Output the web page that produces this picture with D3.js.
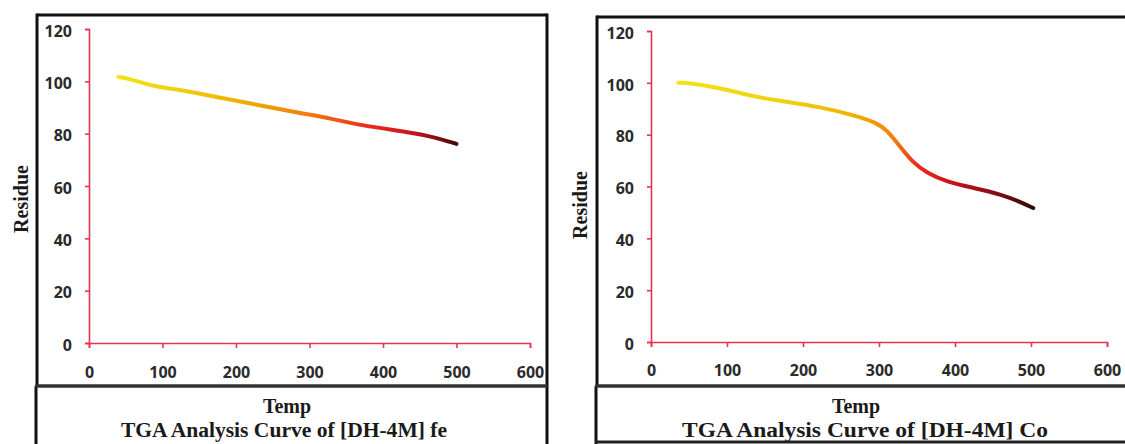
<!DOCTYPE html>
<html>
<head>
<meta charset="utf-8">
<script src="https://cdn.jsdelivr.net/npm/d3@7"></script>
<style>
  body { margin: 0; background: #fff; }
  .tick text { font-family: "Open Sans", sans-serif; font-weight: 700; font-size: 16px; fill: #2a2a2a; }
  .title { font-family: "Liberation Serif", "Times New Roman", serif; font-weight: 700; font-size: 20px; fill: #1a1a1a; }
</style>
</head>
<body>
<div id="chart"></div>
<script>
// tick values shared by both panels
var xTicks = [0, 100, 200, 300, 400, 500, 600];
var yTicks = [0, 20, 40, 60, 80, 100, 120];

// [DH-4M] fe
var tempFe = [40, 56, 83, 124, 160, 215, 278, 332, 365, 441, 468, 500];
var residueFe = [101.7, 101, 98.3, 96.7, 94.8, 91.8, 88.3, 85.7, 83.4, 80.3, 78.8, 76.1];

// [DH-4M] Co
var tempCo = [36, 51, 91, 143, 179, 222, 266, 297, 310, 328, 345, 363, 389, 424, 463, 485, 503];
var residueCo = [100, 100, 98, 94.2, 92.7, 90.7, 87.6, 84.6, 81.9, 75.3, 69.1, 65.3, 61.8, 59.5, 56.8, 54.1, 51.7];

var svg = d3.select("#chart")
  .append("svg")
    .attr("width", 1125)
    .attr("height", 444);

var defs = svg.append("defs");

function drawPanel(p) {
  var x = d3.scaleLinear().domain([0, 600]).range([p.x0, p.x1]);
  var y = d3.scaleLinear().domain([0, 120]).range([p.y0, p.y1]);

  // frame boxes
  var g = svg.append("g");
  g.append("line").attr("x1", p.frameL).attr("x2", p.frameR).attr("y1", p.frameT).attr("y2", p.frameT)
    .attr("stroke", "#111").attr("stroke-width", 3);
  g.append("line").attr("x1", p.frameL).attr("x2", p.frameL).attr("y1", p.frameT - 1.5).attr("y2", 386)
    .attr("stroke", "#111").attr("stroke-width", 3);
  g.append("line").attr("x1", p.frameL - 1).attr("x2", p.frameL - 1).attr("y1", 386).attr("y2", 450)
    .attr("stroke", "#111").attr("stroke-width", 3);
  g.append("line").attr("x1", p.frameR).attr("x2", p.frameR).attr("y1", p.frameT - 1.5).attr("y2", 450)
    .attr("stroke", "#111").attr("stroke-width", 3);
  g.append("line").attr("x1", p.frameL - 2).attr("x2", p.frameR).attr("y1", 386).attr("y2", 386)
    .attr("stroke", "#333").attr("stroke-width", 3.5);
  g.append("line").attr("x1", p.frameL - 2).attr("x2", p.frameR).attr("y1", p.boxB).attr("y2", p.boxB)
    .attr("stroke", "#222").attr("stroke-width", 3);

  // axes
  var yAxis = g.append("g")
    .attr("transform", "translate(" + p.x0 + ",0)")
    .call(d3.axisLeft(y).tickValues(yTicks).tickSize(4).tickSizeOuter(4).tickPadding(13));
  yAxis.selectAll("text").attr("dy", "0.45em");

  var xAxis = g.append("g")
    .attr("transform", "translate(0," + p.y0 + ")")
    .call(d3.axisBottom(x).tickValues(xTicks).tickSize(5).tickSizeOuter(5));
  xAxis.selectAll("text").attr("y", p.xLabelY).attr("dy", "0");

  g.selectAll(".domain, .tick line").attr("stroke", "#e8354f").attr("stroke-width", 1.6);

  // gradient along temperature
  var grad = defs.append("linearGradient")
    .attr("id", p.id)
    .attr("gradientUnits", "userSpaceOnUse")
    .attr("x1", x(p.temp[0])).attr("x2", x(p.temp[p.temp.length - 1]))
    .attr("y1", 0).attr("y2", 0);
  var t0 = p.temp[0], t1 = p.temp[p.temp.length - 1];
  p.stops.forEach(function(s) {
    grad.append("stop").attr("offset", (s[0] - t0) / (t1 - t0)).attr("stop-color", s[1]);
  });

  var line = d3.line()
    .x(function(d, i) { return x(p.temp[i]); })
    .y(function(d) { return y(d); })
    .curve(d3.curveBasis);

  g.append("path")
    .datum(p.residue)
    .attr("d", line)
    .attr("fill", "none")
    .attr("stroke", "url(#" + p.id + ")")
    .attr("stroke-width", 4)
    .attr("stroke-linecap", "round");

  // titles
  g.append("text").attr("class", "title")
    .attr("transform", "translate(" + p.resX + "," + p.resY + ")rotate(-90)")
    .attr("text-anchor", "middle")
    .text("Residue");
  g.append("text").attr("class", "title")
    .attr("x", p.tempX).attr("y", 413)
    .attr("text-anchor", "middle")
    .text("Temp");
  g.append("text").attr("class", "title")
    .attr("x", p.capX).attr("y", 437)
    .attr("text-anchor", "middle")
    .attr("textLength", p.capLen).attr("lengthAdjust", "spacingAndGlyphs")
    .text(p.caption);
}

drawPanel({
  id: "gradFe", temp: tempFe, residue: residueFe,
  x0: 89, x1: 530, y0: 343, y1: 29,
  frameL: 37, frameR: 547, frameT: 15, boxB: 448,
  xLabelY: 35, resX: 28, resY: 199, tempX: 287, capX: 284, capLen: 326,
  caption: "TGA Analysis Curve of [DH-4M] fe",
  stops: [[40, "#f2e31a"], [120, "#f0d010"], [220, "#f0a800"], [300, "#f27a10"],
          [380, "#ec2a1c"], [440, "#c8141e"], [480, "#7a0c12"], [500, "#3c0a0a"]]
});

drawPanel({
  id: "gradCo", temp: tempCo, residue: residueCo,
  x0: 651, x1: 1107, y0: 342, y1: 31,
  frameL: 597, frameR: 1130, frameT: 17, boxB: 442,
  xLabelY: 34, resX: 587, resY: 205, tempX: 856, capX: 865, capLen: 366,
  caption: "TGA Analysis Curve of [DH-4M] Co",
  stops: [[36, "#f2e31a"], [180, "#efd010"], [270, "#f0b000"], [320, "#f08010"],
          [350, "#ec2a1c"], [400, "#c4121c"], [460, "#7a0c12"], [503, "#300808"]]
});
</script>
</body>
</html>
